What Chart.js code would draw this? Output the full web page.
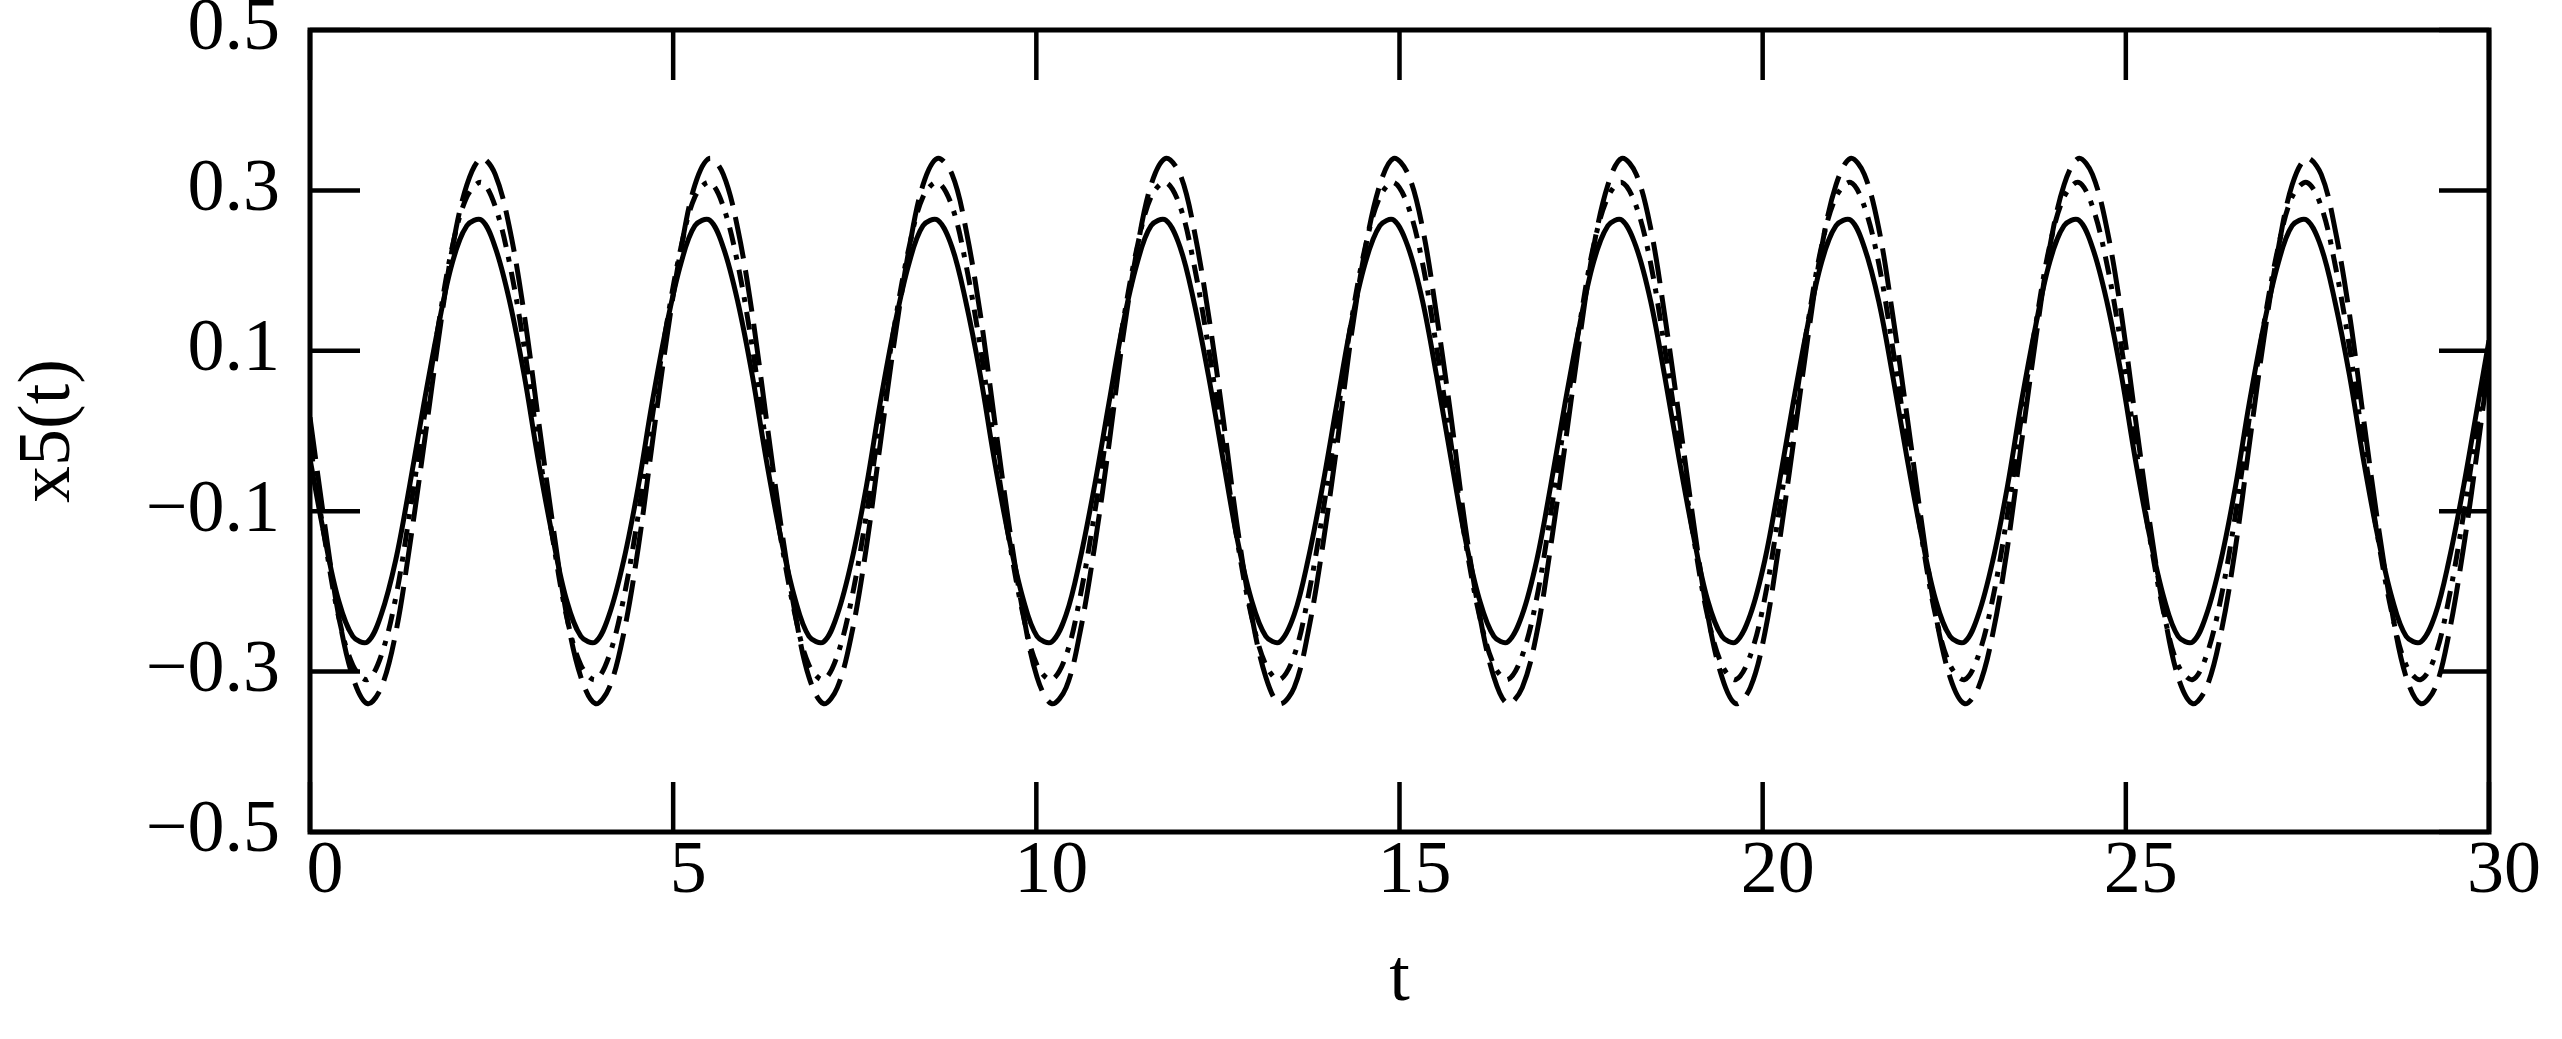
<!DOCTYPE html>
<html>
<head>
<meta charset="utf-8">
<title>x5(t)</title>
<script src="https://cdn.jsdelivr.net/npm/chart.js@4.4.1/dist/chart.umd.min.js"></script>
<style>
    html, body { margin: 0; padding: 0; background: #fff; }
    #grafico { display: block; }
</style>
</head>
<body>
<canvas id="grafico" width="2562" height="1039"></canvas>
<script>
// valores (t de 0 a 30)
const tempo = [
    0.00, 0.20, 0.39, 0.59, 0.79, 0.98, 1.18, 1.37, 1.57, 1.77, 1.96, 2.16, 2.36, 2.55, 2.75, 2.95,
    3.14, 3.34, 3.53, 3.73, 3.93, 4.12, 4.32, 4.52, 4.71, 4.91, 5.11, 5.30, 5.50, 5.69, 5.89, 6.09,
    6.28, 6.48, 6.68, 6.87, 7.07, 7.26, 7.46, 7.66, 7.85, 8.05, 8.25, 8.44, 8.64, 8.84, 9.03, 9.23,
    9.42, 9.62, 9.82, 10.01, 10.21, 10.41, 10.60, 10.80, 11.00, 11.19, 11.39, 11.58, 11.78, 11.98, 12.17, 12.37,
    12.57, 12.76, 12.96, 13.16, 13.35, 13.55, 13.74, 13.94, 14.14, 14.33, 14.53, 14.73, 14.92, 15.12, 15.32, 15.51,
    15.71, 15.90, 16.10, 16.30, 16.49, 16.69, 16.89, 17.08, 17.28, 17.48, 17.67, 17.87, 18.06, 18.26, 18.46, 18.65,
    18.85, 19.05, 19.24, 19.44, 19.63, 19.83, 20.03, 20.22, 20.42, 20.62, 20.81, 21.01, 21.21, 21.40, 21.60, 21.79,
    21.99, 22.19, 22.38, 22.58, 22.78, 22.97, 23.17, 23.37, 23.56, 23.76, 23.95, 24.15, 24.35, 24.54, 24.74, 24.94,
    25.13, 25.33, 25.53, 25.72, 25.92, 26.11, 26.31, 26.51, 26.70, 26.90, 27.10, 27.29, 27.49, 27.69, 27.88, 28.08,
    28.27, 28.47, 28.67, 28.86, 29.06, 29.26, 29.45, 29.65, 29.85, 30.00
];

const x5Solida = [
    -0.035, -0.132, -0.210, -0.256, -0.263, -0.229, -0.161, -0.069, 0.035, 0.132, 0.210, 0.256, 0.263, 0.229, 0.161, 0.069,
    -0.035, -0.132, -0.210, -0.256, -0.263, -0.229, -0.161, -0.069, 0.035, 0.132, 0.210, 0.256, 0.263, 0.229, 0.161, 0.069,
    -0.035, -0.132, -0.210, -0.256, -0.263, -0.229, -0.161, -0.069, 0.035, 0.132, 0.210, 0.256, 0.263, 0.229, 0.161, 0.069,
    -0.035, -0.132, -0.210, -0.256, -0.263, -0.229, -0.161, -0.069, 0.035, 0.132, 0.210, 0.256, 0.263, 0.229, 0.161, 0.069,
    -0.035, -0.132, -0.210, -0.256, -0.263, -0.229, -0.161, -0.069, 0.035, 0.132, 0.210, 0.256, 0.263, 0.229, 0.161, 0.069,
    -0.035, -0.132, -0.210, -0.256, -0.263, -0.229, -0.161, -0.069, 0.035, 0.132, 0.210, 0.256, 0.263, 0.229, 0.161, 0.069,
    -0.035, -0.132, -0.210, -0.256, -0.263, -0.229, -0.161, -0.069, 0.035, 0.132, 0.210, 0.256, 0.263, 0.229, 0.161, 0.069,
    -0.035, -0.132, -0.210, -0.256, -0.263, -0.229, -0.161, -0.069, 0.035, 0.132, 0.210, 0.256, 0.263, 0.229, 0.161, 0.069,
    -0.035, -0.132, -0.210, -0.256, -0.263, -0.229, -0.161, -0.069, 0.035, 0.132, 0.210, 0.256, 0.263, 0.229, 0.161, 0.069,
    -0.035, -0.132, -0.210, -0.256, -0.263, -0.229, -0.161, -0.069, 0.035, 0.113
];

const x5Tracejada = [
    0.017, -0.115, -0.228, -0.307, -0.340, -0.320, -0.252, -0.145, -0.017, 0.115, 0.228, 0.307, 0.340, 0.320, 0.252, 0.145,
    0.017, -0.115, -0.228, -0.307, -0.340, -0.320, -0.252, -0.145, -0.017, 0.115, 0.228, 0.307, 0.340, 0.320, 0.252, 0.145,
    0.017, -0.115, -0.228, -0.307, -0.340, -0.320, -0.252, -0.145, -0.017, 0.115, 0.228, 0.307, 0.340, 0.320, 0.252, 0.145,
    0.017, -0.115, -0.228, -0.307, -0.340, -0.320, -0.252, -0.145, -0.017, 0.115, 0.228, 0.307, 0.340, 0.320, 0.252, 0.145,
    0.017, -0.115, -0.228, -0.307, -0.340, -0.320, -0.252, -0.145, -0.017, 0.115, 0.228, 0.307, 0.340, 0.320, 0.252, 0.145,
    0.017, -0.115, -0.228, -0.307, -0.340, -0.320, -0.252, -0.145, -0.017, 0.115, 0.228, 0.307, 0.340, 0.320, 0.252, 0.145,
    0.017, -0.115, -0.228, -0.307, -0.340, -0.320, -0.252, -0.145, -0.017, 0.115, 0.228, 0.307, 0.340, 0.320, 0.252, 0.145,
    0.017, -0.115, -0.228, -0.307, -0.340, -0.320, -0.252, -0.145, -0.017, 0.115, 0.228, 0.307, 0.340, 0.320, 0.252, 0.145,
    0.017, -0.115, -0.228, -0.307, -0.340, -0.320, -0.252, -0.145, -0.017, 0.115, 0.228, 0.307, 0.340, 0.320, 0.252, 0.145,
    0.017, -0.115, -0.228, -0.307, -0.340, -0.320, -0.252, -0.145, -0.017, 0.087
];

const x5TracoPonto = [
    -0.016, -0.133, -0.230, -0.292, -0.310, -0.280, -0.208, -0.104, 0.016, 0.133, 0.230, 0.292, 0.310, 0.280, 0.208, 0.104,
    -0.016, -0.133, -0.230, -0.292, -0.310, -0.280, -0.208, -0.104, 0.016, 0.133, 0.230, 0.292, 0.310, 0.280, 0.208, 0.104,
    -0.016, -0.133, -0.230, -0.292, -0.310, -0.280, -0.208, -0.104, 0.016, 0.133, 0.230, 0.292, 0.310, 0.280, 0.208, 0.104,
    -0.016, -0.133, -0.230, -0.292, -0.310, -0.280, -0.208, -0.104, 0.016, 0.133, 0.230, 0.292, 0.310, 0.280, 0.208, 0.104,
    -0.016, -0.133, -0.230, -0.292, -0.310, -0.280, -0.208, -0.104, 0.016, 0.133, 0.230, 0.292, 0.310, 0.280, 0.208, 0.104,
    -0.016, -0.133, -0.230, -0.292, -0.310, -0.280, -0.208, -0.104, 0.016, 0.133, 0.230, 0.292, 0.310, 0.280, 0.208, 0.104,
    -0.016, -0.133, -0.230, -0.292, -0.310, -0.280, -0.208, -0.104, 0.016, 0.133, 0.230, 0.292, 0.310, 0.280, 0.208, 0.104,
    -0.016, -0.133, -0.230, -0.292, -0.310, -0.280, -0.208, -0.104, 0.016, 0.133, 0.230, 0.292, 0.310, 0.280, 0.208, 0.104,
    -0.016, -0.133, -0.230, -0.292, -0.310, -0.280, -0.208, -0.104, 0.016, 0.133, 0.230, 0.292, 0.310, 0.280, 0.208, 0.104,
    -0.016, -0.133, -0.230, -0.292, -0.310, -0.280, -0.208, -0.104, 0.016, 0.109
];

const ticksX = [0, 5, 10, 15, 20, 25, 30];
const ticksY = [-0.5, -0.3, -0.1, 0.1, 0.3, 0.5];

const fonte = { family: "'Liberation Serif', 'Times New Roman', serif", size: 74, lineHeight: 1.1 };
const TAM_TICK = 50;

function pontos(arrY) {
    return tempo.map((t, i) => ({ x: t, y: arrY[i] }));
}

function formataY(v) {
    var s = Math.abs(v).toFixed(1);
    return v < 0 ? '\u2212' + s : s;
}

// moldura e tracinhos para dentro nos quatro lados
const molduraPlugin = {
    id: 'moldura',
    afterDatasetsDraw(chart) {
        const ctx = chart.ctx;
        const area = chart.chartArea;
        const sx = chart.scales.x;
        const sy = chart.scales.y;

        ctx.save();
        ctx.strokeStyle = '#000';
        ctx.lineWidth = 4.5;
        ctx.beginPath();
        ticksY.forEach(v => {
            var y = sy.getPixelForValue(v);
            ctx.moveTo(area.left, y);
            ctx.lineTo(area.left + TAM_TICK, y);
            ctx.moveTo(area.right, y);
            ctx.lineTo(area.right - TAM_TICK, y);
        });
        ticksX.forEach(v => {
            var x = sx.getPixelForValue(v);
            ctx.moveTo(x, area.top);
            ctx.lineTo(x, area.top + TAM_TICK);
            ctx.moveTo(x, area.bottom);
            ctx.lineTo(x, area.bottom - TAM_TICK);
        });
        ctx.stroke();

        ctx.lineWidth = 5;
        ctx.strokeRect(area.left, area.top, area.right - area.left, area.bottom - area.top);
        ctx.restore();
    }
};

var ctx = document.getElementById('grafico').getContext('2d');

window.grafico = new Chart(ctx, {
    type: 'line',
    data: {
        datasets: [{
            label: 'x5 solida',
            data: pontos(x5Solida),
            borderColor: '#000',
            borderWidth: 5,
            tension: 0.35
        }, {
            label: 'x5 tracejada',
            data: pontos(x5Tracejada),
            borderColor: '#000',
            borderWidth: 5,
            borderDash: [42, 12],
            tension: 0.35
        }, {
            label: 'x5 traco ponto',
            data: pontos(x5TracoPonto),
            borderColor: '#000',
            borderWidth: 5,
            borderDash: [18, 10, 5, 10],
            tension: 0.35
        }]
    },
    options: {
        responsive: false,
        animation: false,
        devicePixelRatio: 1,
        layout: {
            padding: { top: 30, right: 73, bottom: 0, left: 0 }
        },
        elements: {
            point: { radius: 0 }
        },
        plugins: {
            legend: { display: false },
            tooltip: { enabled: false }
        },
        scales: {
            x: {
                type: 'linear',
                position: 'bottom',
                min: 0,
                max: 30,
                afterBuildTicks: s => { s.ticks = ticksX.map(v => ({ value: v })); },
                afterFit: s => {
                    s.height = 207;
                    s.paddingLeft = 0;
                    s.paddingRight = 0;
                },
                grid: { display: false, drawTicks: false },
                border: { display: false },
                ticks: {
                    font: fonte,
                    color: '#000',
                    padding: 0,
                    labelOffset: 15,
                    maxRotation: 0,
                    autoSkip: false,
                    callback: v => String(v)
                },
                title: {
                    display: true,
                    text: 't',
                    color: '#000',
                    font: { family: fonte.family, size: 74, lineHeight: 1.2 },
                    padding: { top: 0, bottom: 14 }
                }
            },
            y: {
                type: 'linear',
                min: -0.5,
                max: 0.5,
                afterBuildTicks: s => { s.ticks = ticksY.map(v => ({ value: v })); },
                afterFit: s => {
                    s.width = 310;
                    s.paddingTop = 0;
                    s.paddingBottom = 0;
                },
                grid: { display: false, drawTicks: false },
                border: { display: false },
                ticks: {
                    font: fonte,
                    color: '#000',
                    padding: 30,
                    autoSkip: false,
                    callback: v => formataY(v)
                },
                title: {
                    display: true,
                    text: 'x5(t)',
                    color: '#000',
                    font: { family: fonte.family, size: 74, lineHeight: 1.2 },
                    padding: { top: 5, bottom: 0 }
                }
            }
        }
    },
    plugins: [molduraPlugin]
});
</script>
</body>
</html>
